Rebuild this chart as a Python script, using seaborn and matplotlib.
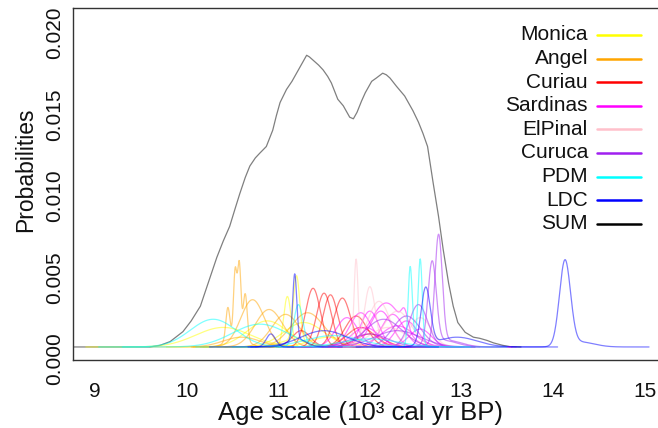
import numpy as np
import pandas as pd
import matplotlib
matplotlib.use("Agg")
import matplotlib.pyplot as plt
import seaborn as sns
from matplotlib.lines import Line2D
from matplotlib.transforms import ScaledTranslation

# Sites and their colours (legend order)
sites = ["Monica", "Angel", "Curiau", "Sardinas", "ElPinal", "Curuca", "PDM", "LDC", "SUM"]
site_colors = ["#FFFF00", "#FFA500", "#FF0000", "#FF00FF", "#FFC0CB",
               "#A020F0", "#00FFFF", "#0000FF", "#000000"]

# Calibrated dates per site. Each date is a list of components
# (centre in 10^3 cal yr BP, spread in 10^3 yr, peak probability);
# the components of one date are summed into one density curve.
monica_dates = [
    [(10.40, 0.30, 0.0012)],
    [(10.88, 0.22, 0.0016)],
    [(11.10, 0.04, 0.0031)],
    [(11.20, 0.035, 0.0040), (11.15, 0.15, 0.0004)],
    [(11.28, 0.22, 0.0015)],
    [(11.55, 0.20, 0.0006)],
]
angel_dates = [
    [(10.45, 0.022, 0.0020), (10.53, 0.018, 0.0040), (10.575, 0.018, 0.0044),
     (10.64, 0.022, 0.0028), (10.55, 0.10, 0.0007)],
    [(10.72, 0.13, 0.0029)],
    [(10.90, 0.15, 0.0023)],
    [(11.08, 0.15, 0.0020)],
    [(11.32, 0.18, 0.0021)],
    [(10.60, 0.20, 0.0006)],
]
curiau_dates = [
    [(11.38, 0.08, 0.0036)],
    [(11.50, 0.08, 0.0033)],
    [(11.57, 0.08, 0.0032)],
    [(11.70, 0.09, 0.0030)],
    [(11.85, 0.12, 0.0019)],
    [(11.25, 0.10, 0.0010)],
    [(12.00, 0.15, 0.0008)],
    [(11.90, 0.15, 0.0012)],
]
sardinas_dates = [
    [(11.75, 0.12, 0.0018)],
    [(11.90, 0.12, 0.0021)],
    [(12.00, 0.10, 0.0022)],
    [(12.12, 0.12, 0.0022)],
    [(12.25, 0.12, 0.0020)],
    [(12.40, 0.12, 0.0016)],
    [(12.18, 0.17, 0.0027), (12.38, 0.035, 0.0010)],
    [(11.95, 0.15, 0.0012)],
    [(12.30, 0.18, 0.0013)],
    [(12.55, 0.12, 0.0011)],
]
elpinal_dates = [
    [(11.85, 0.022, 0.0054)],
    [(12.00, 0.06, 0.0037)],
    [(12.10, 0.12, 0.0028)],
    [(12.30, 0.15, 0.0022)],
    [(12.55, 0.12, 0.0018)],
    [(12.20, 0.20, 0.0012)],
]
curuca_dates = [
    [(12.75, 0.04, 0.0066), (12.85, 0.15, 0.0004)],
    [(12.68, 0.045, 0.0050), (12.80, 0.15, 0.0004)],
    [(12.53, 0.10, 0.0026)],
    [(12.15, 0.20, 0.0017)],
    [(12.40, 0.15, 0.0019)],
    [(12.30, 0.25, 0.0010)],
    [(12.00, 0.20, 0.0008)],
]
pdm_dates = [
    [(10.29, 0.25, 0.0017)],
    [(10.80, 0.30, 0.0014)],
    [(11.22, 0.05, 0.0026)],
    [(11.60, 0.30, 0.0007)],
    [(12.44, 0.022, 0.0047), (12.55, 0.022, 0.0051), (12.50, 0.05, 0.0005)],
    [(12.00, 0.30, 0.0005)],
]
ldc_dates = [
    [(10.92, 0.05, 0.0008)],
    [(11.18, 0.022, 0.0040), (11.20, 0.10, 0.0005)],
    [(11.50, 0.25, 0.0010)],
    [(12.61, 0.05, 0.0035), (12.95, 0.22, 0.0006)],
    [(14.13, 0.06, 0.0052), (14.30, 0.15, 0.0003)],
]
site_dates = [monica_dates, angel_dates, curiau_dates, sardinas_dates,
              elpinal_dates, curuca_dates, pdm_dates, ldc_dates]

# Summed probability distribution
sum_age = [8.70, 9.40, 9.60, 9.71, 9.82, 9.96, 10.05, 10.15, 10.24, 10.33,
           10.40, 10.47, 10.53, 10.58, 10.64, 10.69, 10.75, 10.80, 10.87, 10.94,
           10.98, 11.02, 11.09, 11.15, 11.20, 11.27, 11.31, 11.34, 11.38, 11.44,
           11.49, 11.54, 11.58, 11.65, 11.71, 11.78, 11.82, 11.86, 11.91, 11.95,
           12.02, 12.07, 12.14, 12.18, 12.22, 12.29, 12.38, 12.47, 12.53, 12.58,
           12.63, 12.69, 12.75, 12.80, 12.86, 12.91, 12.96, 13.04, 13.13, 13.20,
           13.28, 13.35, 13.45, 13.53, 13.65]
sum_prob = [0.0, 0.0, 0.0, 0.0001, 0.00033, 0.00094, 0.0016, 0.0025, 0.0040, 0.0055,
            0.0065, 0.0074, 0.0085, 0.0094, 0.0104, 0.0111, 0.0116, 0.0119, 0.0123, 0.0133,
            0.0142, 0.0150, 0.0158, 0.0163, 0.0168, 0.0175, 0.0179, 0.0178, 0.0176, 0.0173,
            0.0170, 0.0166, 0.0162, 0.0152, 0.0148, 0.0141, 0.0140, 0.0144, 0.0151, 0.0156,
            0.0163, 0.0165, 0.0168, 0.0167, 0.0165, 0.0160, 0.0154, 0.0145, 0.0138, 0.0131,
            0.0123, 0.0101, 0.0080, 0.0060, 0.0039, 0.0025, 0.0015, 0.0009, 0.0006, 0.00053,
            0.0004, 0.00025, 0.0001, 0.00002, 0.0]

x_ticks = [9, 10, 11, 12, 13, 14, 15]
y_ticks = [0.000, 0.005, 0.010, 0.015, 0.020]
y_tick_labels = ["0.000", "0.005", "0.010", "0.015", "0.020"]

# Long-form table of date densities
rows = []
for site, dates in zip(sites, site_dates):
    for k, comps in enumerate(dates):
        lo = min(c - 5 * s for c, s, h in comps)
        hi = max(c + 5 * s for c, s, h in comps)
        age = np.arange(lo, hi, 0.003)
        prob = np.zeros_like(age)
        for c, s, h in comps:
            prob += h * np.exp(-0.5 * ((age - c) / s) ** 2)
        rows.append(pd.DataFrame({"age": age, "prob": prob, "site": site,
                                  "date": f"{site}{k}"}))
dates_df = pd.concat(rows, ignore_index=True)
sum_df = pd.DataFrame({"age": sum_age, "prob": sum_prob})

sns.set_style("white")
plt.rcParams["font.family"] = ["Liberation Sans", "DejaVu Sans"]

fig = plt.figure(figsize=(6.58, 4.28), dpi=100)
W, H = 658, 428
ax_left, ax_right, ax_top, ax_bottom = 73, 666.7, 8, 360
ax_w, ax_h = ax_right - ax_left, ax_bottom - ax_top
ax = fig.add_axes([ax_left / W, 1 - ax_bottom / H, ax_w / W, ax_h / H])

sns.lineplot(data=sum_df, x="age", y="prob", color="black", alpha=0.5,
             lw=0.9, sort=False, ax=ax)
palette = dict(zip(sites, site_colors))
sns.lineplot(data=dates_df, x="age", y="prob", hue="site", units="date",
             estimator=None, palette=palette, hue_order=sites[:-1],
             lw=0.9, alpha=0.5, sort=False, legend=False, ax=ax)

ax.set_xlim(8.76, 15.24)
ax.set_ylim(-0.0008, 0.0208)
ax.set_xticks(x_ticks)
ax.set_xticklabels([str(t) for t in x_ticks])
ax.set_yticks(y_ticks)
ax.set_yticklabels(y_tick_labels, rotation=90, va="center")
ax.tick_params(axis="both", direction="out", length=5.8, width=1.0,
               color="#333333", labelsize=15, labelcolor="#111111")
ax.tick_params(axis="x", pad=10)
ax.tick_params(axis="y", pad=0.5)
# rotated y labels sit slightly below their ticks
shift = ScaledTranslation(0, -12 / 100, fig.dpi_scale_trans)
for lab in ax.get_yticklabels():
    lab.set_transform(lab.get_transform() + shift)
for sp in ax.spines.values():
    sp.set_color("#333333")
    sp.set_linewidth(1.0)

ax.set_xlabel("Age scale (10³ cal yr BP)", fontsize=18.5, color="#111111")
ax.set_ylabel("Probabilities", fontsize=16.5, color="#111111")
ax.xaxis.set_label_coords((360 - ax_left) / ax_w, -(401 - ax_bottom) / ax_h)
ax.yaxis.set_label_coords(-(ax_left - 37) / ax_w, (ax_bottom - 170) / ax_h)

# Legend: right-aligned names with coloured keys
row_y0, row_step = 35, 23.6
for i, (name, col) in enumerate(zip(sites, site_colors)):
    yy = 1 - (row_y0 + i * row_step) / H
    fig.text(588 / W, yy, name, ha="right", va="center", fontsize=15,
             color="#111111")
    fig.add_artist(Line2D([597 / W, 641 / W], [yy, yy], color=col, lw=1.8,
                          transform=fig.transFigure))

fig.savefig("out.png", dpi=100)
